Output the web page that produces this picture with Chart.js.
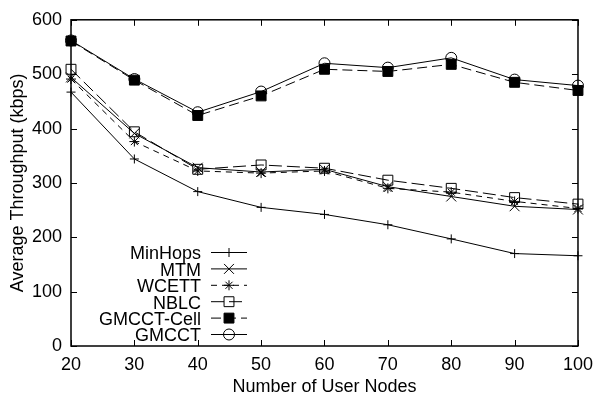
<!DOCTYPE html>
<html>
<head>
<meta charset="utf-8">
<script src="https://cdn.jsdelivr.net/npm/chart.js@4"></script>
<style>
  html, body { margin: 0; padding: 0; background: #fff; }
  #wrap { width: 601px; height: 398px; }
</style>
</head>
<body>
<div id="wrap"><canvas id="chart" width="601" height="398"></canvas></div>
<script>
// dados
const nodes = [20, 30, 40, 50, 60, 70, 80, 90, 100];
const minHops = [467, 344, 284, 255, 242, 223, 197, 170, 166];
const mtm = [494, 391, 328, 320, 325, 293, 275, 257, 251];
const wcett = [491, 376, 322, 318, 322, 290, 283, 266, 253];
const nblc = [509, 394, 325, 333, 327, 305, 290, 273, 261];
const gmcctCell = [561, 489, 424, 460, 509, 505, 518, 485, 470];
const gmcct = [562, 491, 430, 468, 520, 512, 530, 490, 479];
const yTicks = [0, 100, 200, 300, 400, 500, 600];

const FONT = 'Liberation Sans, Arial, sans-serif';

function serie(label, data, pointStyle, radius, dash, fill) {
    return {
        label: label,
        data: data,
        borderColor: '#000',
        borderWidth: 1,
        borderDash: dash,
        pointStyle: pointStyle,
        pointRadius: radius,
        pointBorderColor: '#000',
        pointBorderWidth: 1,
        pointBackgroundColor: fill,
        tension: 0
    };
}

// caixa com marcas para dentro e legenda no estilo gnuplot
const moldura = {
    id: 'moldura',
    afterDatasetsDraw(chart) {
        const ctx = chart.ctx;
        const a = chart.chartArea;
        const x = chart.scales.x, y = chart.scales.y;
        ctx.save();
        ctx.strokeStyle = '#000';
        ctx.lineWidth = 1.5;
        ctx.setLineDash([]);
        ctx.strokeRect(a.left, a.top, a.right - a.left, a.bottom - a.top);
        ctx.lineWidth = 1;
        ctx.beginPath();
        nodes.forEach((n, i) => {
            const px = Math.round(x.getPixelForValue(i)) + 0.5;
            ctx.moveTo(px, a.bottom); ctx.lineTo(px, a.bottom - 6);
            ctx.moveTo(px, a.top); ctx.lineTo(px, a.top + 6);
        });
        yTicks.forEach(v => {
            const py = Math.round(y.getPixelForValue(v)) + 0.5;
            ctx.moveTo(a.left, py); ctx.lineTo(a.left + 6, py);
            ctx.moveTo(a.right, py); ctx.lineTo(a.right - 6, py);
        });
        ctx.stroke();

        // legenda
        ctx.font = '18px ' + FONT;
        ctx.textAlign = 'right';
        ctx.textBaseline = 'middle';
        chart.data.datasets.forEach((ds, i) => {
            const ly = 252.5 + i * 16.4;
            ctx.fillStyle = '#000';
            ctx.fillText(ds.label, a.left + 130, ly + 2);
            ctx.beginPath();
            ctx.setLineDash(ds.borderDash || []);
            ctx.lineWidth = 1;
            ctx.strokeStyle = '#000';
            ctx.moveTo(a.left + 140, ly);
            ctx.lineTo(a.left + 176, ly);
            ctx.stroke();
            ctx.setLineDash([]);
            ctx.fillStyle = ds.pointBackgroundColor;
            Chart.helpers.drawPoint(ctx, {
                pointStyle: ds.pointStyle,
                radius: ds.pointRadius,
                borderWidth: 1,
                rotation: 0
            }, a.left + 158, ly);
        });
        ctx.restore();
    }
};

new Chart(document.getElementById('chart').getContext('2d'), {
    type: 'line',
    data: {
        labels: nodes,
        datasets: [
            serie('MinHops', minHops, 'cross', 4.5, [], 'transparent'),
            serie('MTM', mtm, 'crossRot', 7, [], 'transparent'),
            serie('WCETT', wcett, 'star', 5, [6, 5], 'transparent'),
            serie('NBLC', nblc, 'rect', 7, [13, 5], 'transparent'),
            serie('GMCCT-Cell', gmcctCell, 'rect', 7, [10, 5], '#000'),
            serie('GMCCT', gmcct, 'circle', 5.5, [], 'transparent')
        ]
    },
    options: {
        responsive: false,
        animation: false,
        layout: { padding: { left: 0, right: 18, top: 17, bottom: 0 } },
        plugins: {
            legend: { display: false },
            tooltip: { enabled: false }
        },
        scales: {
            x: {
                type: 'category',
                offset: false,
                grid: { display: false, drawTicks: false },
                border: { display: false },
                ticks: {
                    color: '#000',
                    font: { family: FONT, size: 18 },
                    padding: 8,
                    maxRotation: 0
                },
                title: {
                    display: true,
                    text: 'Number of User Nodes',
                    color: '#000',
                    font: { family: FONT, size: 18 },
                    padding: { top: 0, bottom: 0 }
                },
                afterFit(scale) { scale.height = 52; }
            },
            y: {
                min: 0,
                max: 600,
                grid: { display: false, drawTicks: false },
                border: { display: false },
                ticks: {
                    stepSize: 100,
                    color: '#000',
                    font: { family: FONT, size: 18 },
                    padding: 9
                },
                title: {
                    display: true,
                    text: 'Average Throughput (kbps)',
                    color: '#000',
                    font: { family: FONT, size: 18 },
                    padding: { top: 7, bottom: 0 }
                },
                afterFit(scale) { scale.width = 71; }
            }
        }
    },
    plugins: [moldura]
});
</script>
</body>
</html>
